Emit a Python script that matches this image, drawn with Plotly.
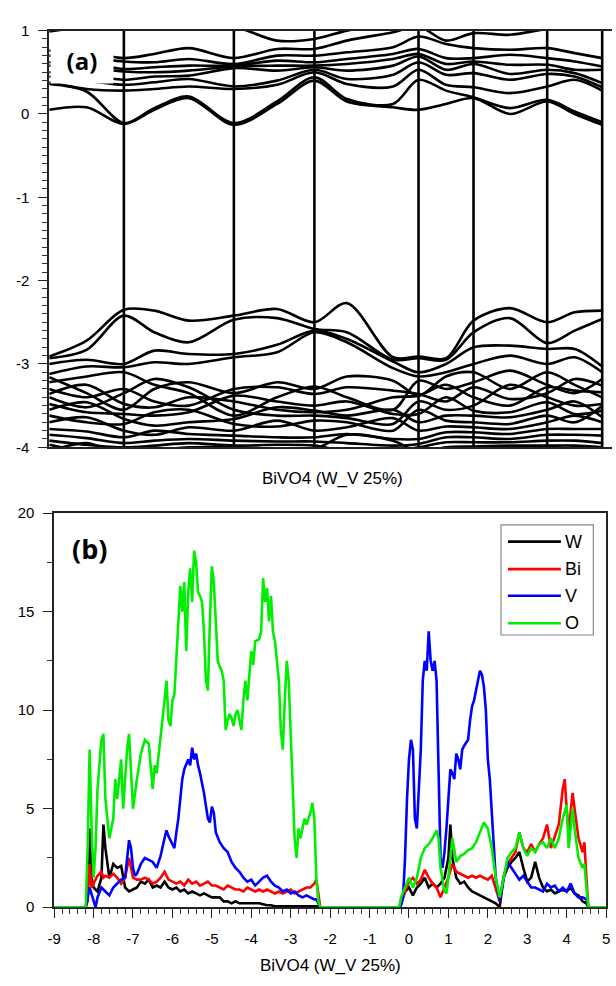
import plotly.graph_objects as go

# ---------------- (a) band structure ----------------
# k-path distance of the high-symmetry points (vertical separators)
kpoints = [0.0, 0.76, 1.88, 2.70, 3.76, 4.32, 5.07, 5.63]
# k positions where the band energies are tabulated
kgrid = [0.0, 0.38, 0.76, 1.07, 1.42, 1.88, 2.32, 2.70, 3.03, 3.50,
         3.76, 4.04, 4.32, 4.69, 5.07, 5.35, 5.63]

# conduction bands: energies (eV) at each kgrid point, lowest band first
conduction = [
    [0.05, 0.36, 0.38, 0.45, 0.50, 0.58, 0.62, 0.70, 0.76, 0.99],
    [0.08, 0.27, 0.30, 0.40, 0.47, 0.55, 0.60, 0.68, 0.74, 1.05],
    [-0.12, -0.11, 0.28, 0.35, 0.41, 0.51, 0.54, 0.63, 0.67, 1.10],
    [0.05, 0.07, 0.30, 0.38, 0.45, 0.50, 0.56, 0.62, 0.72, 1.10],
    [0.19, 0.21, 0.33, 0.42, 0.46, 0.52, 0.58, 0.66, 0.79, 1.10],
    [-0.13, -0.11, 0.30, 0.33, 0.55, 0.57, 0.58, 0.60, 0.67, 1.05],
    [0.12, 0.15, 0.35, 0.40, 0.52, 0.58, 0.64, 0.70, 0.78, 0.88],
    [0.40, 0.44, 0.50, 0.53, 0.56, 0.58, 0.62, 0.70, 0.78, 0.90],
    [0.15, 0.18, 0.36, 0.42, 0.52, 0.60, 0.66, 0.74, 0.88, 1.00],
    [0.08, 0.12, 0.33, 0.47, 0.58, 0.66, 0.72, 0.80, 0.98, 1.10],
    [0.05, 0.41, 0.53, 0.62, 0.69, 0.72, 0.78, 0.93, 1.05, 1.10],
    [0.12, 0.28, 0.35, 0.47, 0.53, 0.60, 0.67, 0.84, 0.88, 1.05],
    [0.19, 0.20, 0.32, 0.49, 0.60, 0.63, 0.67, 0.79, 0.97, 1.05],
    [0.00, 0.07, 0.25, 0.41, 0.48, 0.59, 0.71, 0.77, 0.95, 1.05],
    [0.15, 0.17, 0.33, 0.48, 0.53, 0.59, 0.67, 0.79, 1.02, 1.08],
    [0.00, 0.03, 0.41, 0.45, 0.49, 0.53, 0.63, 0.73, 1.03, 1.08],
    [-0.13, -0.10, 0.28, 0.32, 0.37, 0.53, 0.57, 0.67, 1.03, 1.08],
]

# valence bands: one list per band, energies (eV) along kgrid
valence = [
    [-2.91, -2.72, -2.35, -2.36, -2.48, -2.42, -2.34, -2.50, -2.27, -2.92, -2.91, -2.93, -2.48, -2.33, -2.50, -2.38, -2.36],
    [-2.93, -2.83, -2.42, -2.62, -2.74, -2.47, -2.45, -2.58, -2.62, -2.95, -2.93, -2.95, -2.62, -2.45, -2.75, -2.60, -2.46],
    [-3.00, -2.95, -3.00, -2.84, -2.88, -2.88, -2.77, -2.60, -2.70, -2.97, -3.10, -3.00, -2.80, -2.78, -2.82, -2.82, -3.03],
    [-3.12, -3.03, -3.04, -2.98, -3.00, -2.92, -2.86, -2.62, -2.74, -3.05, -3.15, -3.10, -3.00, -2.90, -3.00, -2.92, -3.10],
    [-3.16, -3.35, -3.55, -3.30, -3.22, -3.35, -3.22, -3.30, -3.15, -3.20, -3.38, -3.15, -3.10, -3.30, -3.10, -3.25, -3.40],
    [-3.22, -3.15, -3.10, -3.25, -3.35, -3.62, -3.40, -3.27, -3.40, -3.55, -3.20, -3.30, -3.22, -3.08, -3.25, -3.35, -3.18],
    [-3.30, -3.40, -3.30, -3.45, -3.50, -3.30, -3.28, -3.36, -3.28, -3.32, -3.36, -3.45, -3.28, -3.42, -3.35, -3.18, -3.26],
    [-3.36, -3.25, -3.48, -3.52, -3.40, -3.45, -3.55, -3.58, -3.55, -3.40, -3.38, -3.25, -3.40, -3.50, -3.28, -3.32, -3.34],
    [-3.40, -3.52, -3.35, -3.18, -3.28, -3.55, -3.62, -3.62, -3.65, -3.72, -3.45, -3.55, -3.50, -3.25, -3.40, -3.50, -3.48],
    [-3.48, -3.58, -3.60, -3.62, -3.58, -3.38, -3.45, -3.50, -3.45, -3.60, -3.60, -3.40, -3.56, -3.58, -3.46, -3.60, -3.56],
    [-3.55, -3.46, -3.66, -3.74, -3.70, -3.66, -3.52, -3.56, -3.62, -3.55, -3.70, -3.62, -3.62, -3.64, -3.55, -3.45, -3.64],
    [-3.62, -3.70, -3.72, -3.58, -3.55, -3.72, -3.75, -3.68, -3.70, -3.80, -3.55, -3.68, -3.70, -3.72, -3.62, -3.70, -3.50],
    [-3.70, -3.64, -3.80, -3.85, -3.76, -3.80, -3.68, -3.80, -3.76, -3.65, -3.80, -3.75, -3.76, -3.78, -3.70, -3.62, -3.70],
    [-3.78, -3.81, -3.88, -3.80, -3.84, -3.86, -3.88, -3.88, -3.84, -3.90, -3.90, -3.82, -3.82, -3.84, -3.78, -3.78, -3.78],
    [-3.85, -3.89, -3.95, -3.92, -3.90, -3.92, -3.93, -3.93, -3.95, -3.98, -3.96, -3.88, -3.88, -3.90, -3.85, -3.85, -3.86],
    [-3.92, -3.97, -4.00, -3.98, -3.95, -3.98, -3.97, -3.98, -4.05, -4.05, -4.00, -3.94, -3.94, -3.94, -3.92, -3.92, -3.95],
    [-3.97, -4.05, -4.05, -4.04, -4.00, -4.00, -4.02, -4.02, -3.85, -3.92, -4.05, -4.00, -3.99, -3.98, -3.98, -3.98, -4.00],
    [-4.05, -3.95, -4.10, -4.10, -4.05, -4.05, -4.06, -4.06, -4.10, -4.10, -4.10, -4.05, -4.05, -4.04, -4.04, -4.04, -4.04],
]

band_ticks = [-4, -3, -2, -1, 0, 1]

# ---------------- (b) partial density of states ----------------
species = ["W", "Bi", "V", "O"]
species_colors = ["#000000", "#ff0000", "#0000ff", "#00ee00"]

W_E = [-9.0, -8.2, -8.15, -8.1, -8.05, -8.0, -7.9, -7.8, -7.75, -7.7, -7.6, -7.5, -7.4, -7.3, -7.2, -7.1, -7.0,
       -6.9, -6.8, -6.7, -6.6, -6.5, -6.4, -6.3, -6.2, -6.1, -6.0, -5.9, -5.8, -5.7, -5.6, -5.5, -5.4, -5.3,
       -5.2, -5.1, -5.0, -4.9, -4.8, -4.7, -4.6, -4.5, -4.4, -4.3, -4.2, -4.1, -4.0, -3.9, -3.8, -3.7, -3.6,
       -3.5, -3.4, -3.2, -3.0, -2.8, -2.5, -2.3, -2.25,
       -0.25, -0.2, -0.1, 0.0, 0.1, 0.2, 0.3, 0.4, 0.5, 0.6, 0.7, 0.8, 0.9, 1.0, 1.05, 1.1, 1.2, 1.3, 1.4,
       1.5, 1.6, 1.7, 1.8, 1.9, 2.0, 2.1, 2.2, 2.3, 2.4, 2.5, 2.6, 2.7, 2.8, 2.9, 3.0, 3.1, 3.2, 3.3, 3.4,
       3.5, 3.6, 3.7, 3.8, 3.9, 4.0, 4.1, 4.2, 4.3, 4.4, 4.5, 4.55, 5.0]
W_D = [0, 0, 0.5, 4.0, 1.5, 1.0, 0.8, 1.5, 4.2, 3.0, 1.5, 2.2, 2.0, 2.1, 1.0, 0.8, 0.9,
       1.0, 1.3, 1.2, 1.4, 1.0, 1.1, 1.0, 1.3, 1.0, 0.9, 1.0, 0.8, 0.9, 0.7, 0.8, 0.7, 0.6,
       0.7, 0.6, 0.5, 0.5, 0.5, 0.3, 0.3, 0.2, 0.3, 0.2, 0.2, 0.2, 0.2, 0.2, 0.2, 0.15, 0.1,
       0.1, 0.05, 0.05, 0.05, 0.05, 0.05, 0.05, 0,
       0, 0.2, 0.8, 1.0, 0.6, 1.0, 1.2, 1.5, 1.0, 1.2, 1.0, 1.2, 1.5, 2.5, 4.2, 2.5, 1.5, 1.2, 1.3,
       1.0, 0.8, 0.7, 0.6, 0.5, 0.4, 0.3, 0.2, 0.0, 1.5, 2.0, 2.3, 2.5, 2.8, 2.0, 1.3, 1.5, 2.3, 1.5, 1.0,
       0.8, 0.9, 0.7, 0.8, 0.9, 0.8, 1.0, 0.7, 0.6, 0.3, 0.2, 0, 0]

Bi_E = [-9.0, -8.2, -8.15, -8.1, -8.05, -8.0, -7.9, -7.8, -7.75, -7.7, -7.6, -7.5, -7.4, -7.3, -7.2, -7.1, -7.0,
        -6.9, -6.8, -6.7, -6.6, -6.5, -6.4, -6.3, -6.2, -6.1, -6.0, -5.9, -5.8, -5.7, -5.6, -5.5, -5.4, -5.3,
        -5.2, -5.1, -5.0, -4.9, -4.8, -4.7, -4.6, -4.5, -4.4, -4.3, -4.2, -4.1, -4.0, -3.9, -3.8, -3.7, -3.6,
        -3.5, -3.4, -3.3, -3.2, -3.1, -3.0, -2.9, -2.8, -2.7, -2.6, -2.5, -2.4, -2.35, -2.3, -2.25,
        -0.25, -0.2, -0.1, 0.0, 0.1, 0.2, 0.3, 0.4, 0.5, 0.6, 0.7, 0.8, 0.9, 1.0, 1.1, 1.2, 1.3, 1.4,
        1.5, 1.6, 1.7, 1.8, 1.9, 2.0, 2.1, 2.2, 2.3, 2.4, 2.5, 2.6, 2.7, 2.8, 2.9, 3.0, 3.1, 3.2, 3.3, 3.4,
        3.5, 3.6, 3.7, 3.8, 3.9, 3.95, 4.0, 4.05, 4.1, 4.15, 4.2, 4.3, 4.4, 4.45, 4.5, 4.55, 5.0]
Bi_D = [0, 0, 0.3, 2.2, 1.0, 1.2, 1.6, 1.8, 1.5, 1.6, 1.5, 1.7, 1.5, 1.2, 1.5, 2.5, 1.5,
        1.4, 1.4, 1.5, 1.4, 1.2, 1.3, 1.5, 1.8, 1.4, 1.3, 1.2, 1.3, 1.1, 1.4, 1.2, 1.3, 1.1,
        1.2, 1.3, 1.1, 1.1, 1.0, 0.9, 1.1, 1.0, 0.9, 0.9, 0.8, 1.0, 0.9, 0.8, 0.9, 0.8, 0.9,
        0.8, 0.7, 0.8, 0.7, 0.8, 0.9, 0.7, 0.8, 0.9, 1.0, 1.0, 1.2, 1.4, 0.6, 0,
        0, 0.2, 0.8, 1.3, 1.5, 1.2, 1.4, 1.9, 1.5, 1.2, 1.0, 0.5, 1.0, 1.5, 2.2, 1.8, 1.7, 1.6,
        1.5, 1.6, 1.5, 1.6, 1.5, 1.4, 1.6, 1.0, 0.3, 1.5, 2.2, 2.5, 2.8, 3.8, 3.0, 2.8, 3.2, 2.8, 3.2, 3.5,
        4.2, 3.0, 3.6, 4.2, 6.0, 6.5, 5.0, 3.8, 4.8, 5.8, 5.0, 3.5, 2.8, 3.3, 1.5, 0, 0]

V_E = [-9.0, -8.2, -8.1, -8.0, -7.95, -7.9, -7.8, -7.7, -7.6, -7.5, -7.4, -7.3, -7.2, -7.15, -7.1, -7.05, -7.0,
       -6.95, -6.9, -6.8, -6.7, -6.6, -6.5, -6.4, -6.3, -6.2, -6.15, -6.1, -6.0, -5.95, -5.9, -5.85, -5.8,
       -5.75, -5.7, -5.6, -5.55, -5.5, -5.45, -5.4, -5.35, -5.3, -5.2, -5.1, -5.05, -5.0, -4.95, -4.9, -4.8,
       -4.7, -4.6, -4.5, -4.4, -4.3, -4.2, -4.1, -4.0, -3.9, -3.8, -3.7, -3.6, -3.5, -3.4, -3.3, -3.2, -3.1,
       -3.0, -2.9, -2.8, -2.7, -2.6, -2.5, -2.4, -2.35, -2.3, -2.25,
       -0.25, -0.2, -0.15, -0.1, -0.05, 0.0, 0.05, 0.1, 0.15, 0.2, 0.3, 0.35, 0.4, 0.45, 0.5, 0.55, 0.6, 0.65,
       0.7, 0.75, 0.8, 0.85, 0.9, 0.95, 1.0, 1.05, 1.1, 1.15, 1.2, 1.25, 1.3, 1.35, 1.4, 1.5, 1.55, 1.6, 1.65,
       1.7, 1.75, 1.8, 1.85, 1.9, 1.95, 2.0, 2.05, 2.1, 2.15, 2.2, 2.3, 2.4, 2.5, 2.6, 2.7, 2.8, 2.9, 3.0,
       3.1, 3.2, 3.3, 3.4, 3.5, 3.6, 3.7, 3.8, 3.9, 4.0, 4.1, 4.2, 4.3, 4.4, 4.5, 4.55, 5.0]
V_D = [0, 0, 1.0, 0.3, 0.0, 0.5, 1.0, 0.8, 0.6, 1.0, 1.2, 1.4, 1.5, 2.5, 3.4, 3.0, 2.0,
       1.6, 1.7, 2.2, 2.5, 2.4, 2.3, 2.0, 2.6, 3.5, 3.9, 3.6, 3.2, 3.0, 3.8, 4.5, 5.5,
       6.5, 7.0, 7.5, 7.2, 8.1, 7.5, 7.8, 7.2, 6.8, 5.8, 4.5, 4.3, 5.1, 4.8, 3.8, 3.3,
       3.0, 2.8, 2.3, 2.0, 1.8, 1.5, 1.3, 1.4, 1.1, 1.3, 1.5, 1.6, 1.3, 1.1, 1.0, 0.8, 0.9,
       0.7, 0.8, 0.6, 0.5, 0.6, 0.5, 0.4, 0.4, 0.2, 0,
       0, 0.1, 0.5, 2.5, 5.5, 7.5, 8.5, 8.0, 4.5, 4.0, 8.0, 11.5, 12.5, 12.0, 14.0, 12.5, 12.0, 12.5,
       11.5, 6.0, 2.5, 2.0, 2.8, 4.0, 5.5, 7.0, 6.8, 6.5, 7.8, 7.5, 7.0, 8.0, 8.2, 8.5, 9.5, 10.2, 10.5,
       11.0, 11.5, 12.0, 11.8, 11.2, 10.0, 7.5, 6.5, 5.0, 3.0, 1.5, 0.3, 1.5, 2.3, 2.0, 1.7, 1.4, 1.6, 1.3,
       1.0, 1.0, 0.9, 0.8, 1.2, 1.0, 1.1, 0.8, 1.0, 0.8, 1.2, 0.7, 0.5, 0.5, 0.4, 0, 0]

O_E = [-9.0, -8.2, -8.15, -8.1, -8.05, -8.0, -7.95, -7.9, -7.8, -7.75, -7.7, -7.6, -7.5, -7.45, -7.4, -7.3,
       -7.25, -7.2, -7.15, -7.1, -7.05, -7.0, -6.9, -6.8, -6.7, -6.6, -6.5, -6.45, -6.4, -6.3, -6.2, -6.15,
       -6.1, -6.05, -6.0, -5.95, -5.9, -5.85, -5.8, -5.75, -5.7, -5.65, -5.6, -5.55, -5.5, -5.45, -5.4, -5.35,
       -5.3, -5.25, -5.2, -5.15, -5.1, -5.05, -5.0, -4.95, -4.9, -4.85, -4.8, -4.75, -4.7, -4.65, -4.6, -4.55,
       -4.5, -4.45, -4.4, -4.35, -4.3, -4.25, -4.2, -4.15, -4.1, -4.05, -4.0, -3.95, -3.9, -3.8, -3.75, -3.7,
       -3.65, -3.6, -3.55, -3.5, -3.45, -3.4, -3.3, -3.25, -3.2, -3.15, -3.1, -3.05, -3.0, -2.95, -2.9, -2.85,
       -2.8, -2.75, -2.7, -2.65, -2.6, -2.5, -2.45, -2.4, -2.35, -2.3, -2.25,
       -0.25, -0.2, -0.1, 0.0, 0.1, 0.2, 0.3, 0.4, 0.5, 0.6, 0.7, 0.75, 0.8, 0.9, 0.95, 1.0, 1.1, 1.15,
       1.2, 1.3, 1.4, 1.5, 1.6, 1.7, 1.8, 1.9, 2.0, 2.1, 2.2, 2.3, 2.4, 2.5, 2.6, 2.7, 2.8, 2.9, 3.0,
       3.1, 3.2, 3.3, 3.4, 3.5, 3.6, 3.7, 3.8, 3.9, 4.0, 4.05, 4.1, 4.15, 4.2, 4.3, 4.4, 4.45, 4.5, 4.55, 5.0]
O_D = [0, 0, 3.0, 8.0, 4.0, 1.5, 3.0, 6.0, 8.5, 8.8, 5.5, 3.5, 4.5, 6.5, 5.5, 7.5,
       5.0, 6.5, 8.0, 8.8, 6.5, 5.0, 6.5, 7.8, 8.5, 8.3, 6.0, 7.2, 6.8, 8.5, 10.5, 11.5,
       9.5, 9.2, 10.5, 10.8, 12.5, 14.5, 16.3, 15.0, 16.5, 13.0, 16.0, 17.2, 15.5, 18.1, 17.5, 16.0,
       15.8, 15.5, 14.0, 11.5, 11.0, 14.5, 17.3, 16.5, 14.5, 12.5, 12.2, 12.0, 11.5, 9.0, 9.5, 9.8,
       9.6, 9.2, 9.8, 10.0, 9.5, 9.0, 10.5, 11.5, 10.5, 12.0, 13.0, 12.3, 13.5, 13.6, 14.0, 16.7,
       15.5, 16.2, 14.5, 15.8, 14.0, 13.5, 11.5, 9.0, 8.0, 10.5, 12.5, 11.5, 8.5, 5.5, 3.5, 2.5,
       4.0, 3.5, 4.0, 4.5, 4.2, 4.8, 5.3, 4.5, 1.5, 0.3, 0,
       0, 0.5, 1.0, 1.5, 1.0, 1.5, 2.5, 3.0, 3.2, 3.5, 3.9, 3.5, 2.0, 0.8, 0.7, 1.5, 3.5, 2.8,
       2.3, 2.6, 2.7, 2.9, 3.0, 3.3, 3.8, 4.3, 4.0, 3.0, 1.5, 0.5, 1.5, 2.5, 2.8, 3.0, 3.8, 3.0, 2.6,
       3.0, 2.8, 3.2, 3.3, 3.0, 3.5, 3.0, 3.5, 4.5, 5.2, 3.0, 4.0, 5.0, 4.0, 2.5, 2.0, 2.2, 1.0, 0, 0]

dos_E = [W_E, Bi_E, V_E, O_E]
dos_D = [W_D, Bi_D, V_D, O_D]

energy_ticks = list(range(-9, 6))
dos_ticks = [0, 5, 10, 15, 20]
axis_caption = "BiVO4 (W_V 25%)"

# ---------------- figure ----------------
W_PX, H_PX = 616, 986


def px(x):
    return x / W_PX


def py(y):
    return 1 - y / H_PX


fig = go.Figure()

band_line = dict(color="black", width=2.6, shape="spline", smoothing=0.9)
for b in range(len(conduction[0])):
    fig.add_trace(go.Scatter(x=kgrid, y=[row[b] for row in conduction], mode="lines",
                             line=band_line, showlegend=False, xaxis="x", yaxis="y", hoverinfo="skip"))
for band in valence:
    fig.add_trace(go.Scatter(x=kgrid, y=band, mode="lines",
                             line=band_line, showlegend=False, xaxis="x", yaxis="y", hoverinfo="skip"))

# high-symmetry separators
for k in kpoints[1:]:
    fig.add_trace(go.Scatter(x=[k, k], y=[-4, 1], mode="lines",
                             line=dict(color="black", width=2.6),
                             showlegend=False, xaxis="x", yaxis="y", hoverinfo="skip"))

for name, col, xs, ys in zip(species, species_colors, dos_E, dos_D):
    fig.add_trace(go.Scatter(x=xs, y=ys, mode="lines", name=name,
                             line=dict(color=col, width=2.6),
                             showlegend=False, xaxis="x2", yaxis="y2"))

font_ticks = dict(family="Liberation Sans, Arial", size=15, color="black")

fig.update_layout(
    width=W_PX, height=H_PX,
    margin=dict(l=0, r=0, t=0, b=0),
    paper_bgcolor="white", plot_bgcolor="white",
    showlegend=False,
    xaxis=dict(domain=[px(43), 1.0], range=[0, 5.73], showticklabels=False, ticks="",
               showgrid=False, zeroline=False, showline=True, linecolor="#222", linewidth=1.6,
               mirror=True, anchor="y"),
    yaxis=dict(domain=[py(446), py(22)], range=[-4, 1], tickvals=band_ticks,
               ticktext=[str(v) for v in band_ticks], ticklabelstandoff=6,
               ticks="outside", ticklen=9, tickwidth=1.3, tickcolor="#222",
               minor=dict(dtick=0.1, ticks="outside", ticklen=5, tickwidth=1, tickcolor="#333"),
               showgrid=False, zeroline=False, showline=True, linecolor="#222", linewidth=1.6,
               tickfont=font_ticks, anchor="x"),
    xaxis2=dict(domain=[px(48), px(610)], range=[-9, 5], tickvals=energy_ticks,
                ticktext=[str(v) for v in energy_ticks], ticklabelstandoff=8,
                ticks="outside", ticklen=9, tickwidth=1.3, tickcolor="#222",
                minor=dict(dtick=0.2, ticks="outside", ticklen=5, tickwidth=1, tickcolor="#333"),
                showgrid=False, zeroline=False, showline=True, linecolor="#222", linewidth=1.6,
                mirror=True, tickfont=font_ticks, anchor="y2", layer="below traces"),
    yaxis2=dict(domain=[py(914), py(513)], range=[0, 20], tickvals=dos_ticks,
                ticktext=[str(v) for v in dos_ticks], ticklabelstandoff=6,
                ticks="outside", ticklen=9, tickwidth=1.3, tickcolor="#222",
                minor=dict(dtick=2.5, ticks="outside", ticklen=5, tickwidth=1, tickcolor="#333"),
                showgrid=False, zeroline=False, showline=True, linecolor="#222", linewidth=1.6,
                mirror=True, tickfont=font_ticks, anchor="x2", layer="below traces"),
)

cap_font = dict(family="Liberation Sans, Arial", size=17, color="black")
fig.add_annotation(x=px(331), y=py(478), xref="paper", yref="paper", text=axis_caption,
                   showarrow=False, font=cap_font, xanchor="center", yanchor="middle")
fig.add_annotation(x=px(329), y=py(973), xref="paper", yref="paper", text=axis_caption,
                   showarrow=False, font=cap_font, xanchor="center", yanchor="middle")

panel_font = dict(family="Open Sans, Lato", size=24, color="black", weight="bold")
fig.add_annotation(x=px(76), y=py(52), xref="paper", yref="paper", text="(a)",
                   showarrow=False, font=panel_font, xanchor="center", yanchor="middle",
                   bgcolor="white", width=60, height=44)
fig.add_annotation(x=px(84), y=py(549), xref="paper", yref="paper", text="(b)",
                   showarrow=False, font=dict(panel_font, size=27), xanchor="center", yanchor="middle")

# legend box for the partial DOS
fig.add_shape(type="rect", xref="paper", yref="paper", x0=px(503), x1=px(597), y0=py(637), y1=py(525),
              line=dict(color="#888", width=1.2), fillcolor="white", layer="above")
legend_rows = [542, 570, 597, 625]
for name, col, yrow in zip(species, species_colors, legend_rows):
    fig.add_shape(type="line", xref="paper", yref="paper", x0=px(510), x1=px(564), y0=py(yrow), y1=py(yrow),
                  line=dict(color=col, width=2.6), layer="above")
    fig.add_annotation(x=px(566), y=py(yrow), xref="paper", yref="paper", text=name, showarrow=False,
                       font=dict(family="Liberation Sans, Arial", size=18, color="black"),
                       xanchor="left", yanchor="middle")

fig.write_html("out.html")
